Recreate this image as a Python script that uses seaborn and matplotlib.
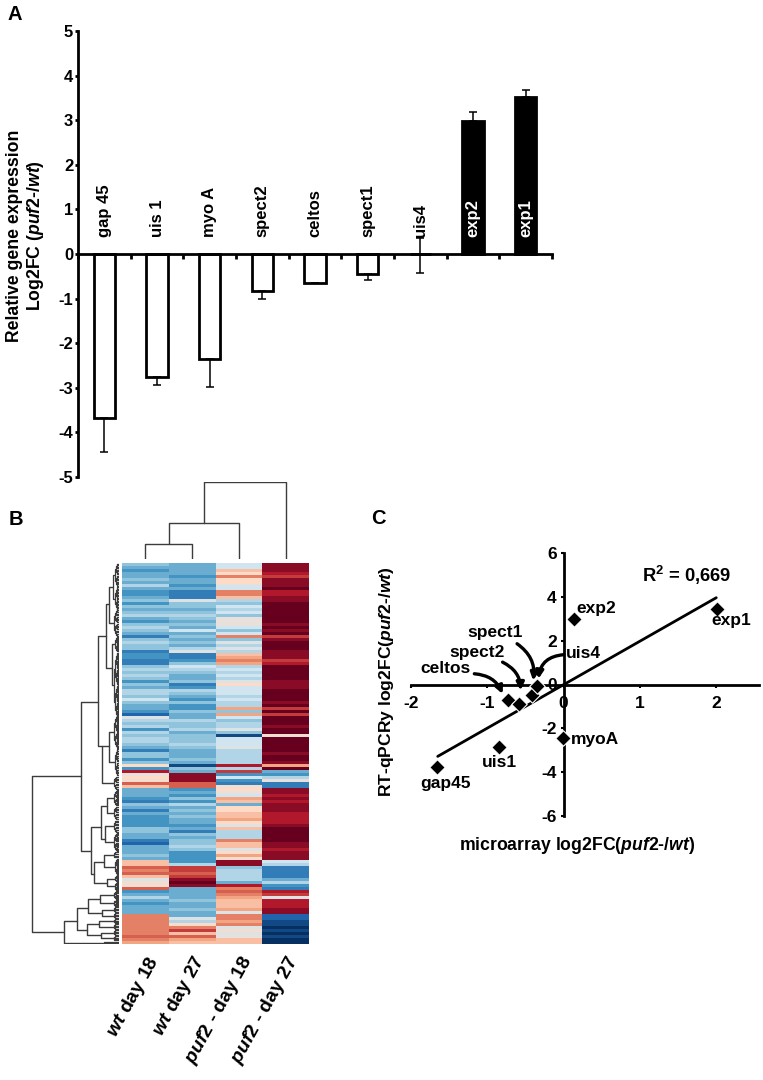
import numpy as np
import pandas as pd
import seaborn as sns
import matplotlib
matplotlib.use('Agg')
import matplotlib.pyplot as plt
from matplotlib.colors import LinearSegmentedColormap

# panel A
genes = ['gap 45', 'uis 1', 'myo A', 'spect2', 'celtos', 'spect1', 'uis4', 'exp2', 'exp1']
fold_change = [-3.68, -2.75, -2.36, -0.82, -0.64, -0.45, 0.0, 2.99, 3.53]
err_low = [0.76, 0.18, 0.63, 0.19, 0.0, 0.13, 0.42, 0.0, 0.0]
err_high = [0.0, 0.0, 0.0, 0.0, 0.0, 0.0, 0.36, 0.20, 0.14]
bar_colors = ['white'] * 7 + ['black'] * 2

# panel B, tenths of the colour scale, one list per column
wt18 = [-4,-5,-6,-5,-5,-4,-5,-3,-5,-6,-6,-5,-4,-6,-4,-5,-4,-3,-5,-6,-4,-3,-4,-5,-7,-4,-3,-4,-4,-7,-6,-6,
        -7,-7,-4,-3,-4,-3,-4,-6,-4,-5,-3,-3,-4,-2,-4,-5,-5,-6,-8,-1,-3,-4,-3,-6,-3,-4,-3,-3,-4,-5,-7,-4,
        -4,-6,-4,2,-6,8,0,2,1,6,3,-5,-5,-5,-6,-7,-4,-5,-7,-5,-6,-6,-6,-6,-4,-4,-5,-5,-7,-8,-5,-5,
        -5,-4,-5,3,3,6,5,6,3,-1,1,1,6,-6,-5,-3,-5,-6,-5,-5,-5,5,5,5,5,5,5,5,6,5,4]
wt27 = [-5,-5,-5,-5,-6,-5,-5,-6,-5,-7,-7,-7,-1,-4,-4,-5,-4,-3,-4,-5,-4,-5,-2,-5,-4,-5,-4,-5,-3,-1,-7,-7,
        -6,-4,-2,-3,-4,-5,-5,-4,-7,-6,-3,-4,-5,-6,-4,-6,-6,-4,-5,-5,-3,-4,-4,-3,-5,-4,-4,-4,-3,-4,-5,-5,
        -5,-4,-5,-9,-4,-5,9,9,9,6,6,-6,-5,-6,-4,-6,-3,-5,-4,-5,-4,-5,-5,-6,-5,-7,-4,-5,-4,-4,-3,-4,
        -6,-6,-6,-6,-3,7,7,6,7,9,10,9,-5,-5,-5,-5,-4,-5,-5,-4,-5,-5,-1,-3,2,5,7,3,6,4,3]
puf18 = [-2,-2,3,2,5,2,2,-1,-2,5,5,3,-3,-4,-2,-3,-2,-4,0,0,0,-2,-4,-2,5,-4,-1,-3,-1,-3,3,4,
         5,4,-3,-2,-3,-2,-3,-1,2,-2,-2,-2,-3,-2,-3,-3,4,-4,4,-2,-4,-3,-3,-1,-4,-9,-2,-2,-2,-1,-3,-3,
         -3,-3,-3,8,-3,7,-6,-2,-6,-7,1,2,0,-2,4,3,-5,2,2,3,3,4,2,-1,3,-3,-3,-3,5,3,3,-1,
         2,4,1,9,9,-4,-3,-3,-3,-3,-5,8,5,6,5,4,3,3,3,4,-1,5,5,4,5,-1,1,-1,0,3,3]
puf27 = [9,9,9,8,7,9,9,9,10,8,8,9,9,10,10,10,10,10,10,10,9,10,9,10,7,9,10,10,10,9,9,9,
         7,8,10,10,10,10,10,9,9,9,10,10,10,10,9,10,7,10,7,10,10,10,9,10,10,1,10,10,10,10,10,9,
         10,10,9,4,10,-5,-6,-3,0,-7,-7,9,9,8,9,8,9,9,9,8,8,8,8,9,10,10,10,10,10,9,9,8,
         9,9,9,-2,-3,-7,-7,-7,-7,-5,-3,-6,-7,8,7,-1,8,8,8,9,9,-8,-8,-9,-9,-10,-9,-10,-9,-10,-10]
column_labels = [r'$\mathit{wt}$ day 18', r'$\mathit{wt}$ day 27',
                 r'$\mathit{puf2}$ - day 18', r'$\mathit{puf2}$ - day 27']
heat_colors = ['#053061', '#2166ac', '#4393c3', '#92c5de', '#d1e5f0', '#e8e0da',
               '#fddbc7', '#f4a582', '#d6604d', '#b2182b', '#67001f']

# column tree: left x, right x, left child height, right child height, height
col_tree = [(0.5, 1.5, 0, 0, 15), (1.0, 2.5, 15, 0, 36.5), (1.75, 3.5, 36.5, 0, 77)]

# row tree: depth, upper row, upper child depth, lower row, lower child depth
row_tree = [(86.3, 71.0, 38.0, 122.9, 54.5), (38.0, 46.2, 20.3, 95.9, 28.0), (28.0, 87.9, 17.3, 103.7, 24.7),
            (20.3, 24.3, 12.3, 61.0, 16.3), (12.3, 13.7, 10.0, 35.0, 7.0), (10.0, 7.9, 5.5, 20.0, 5.0),
            (7.0, 27.0, 4.0, 40.7, 5.0), (16.3, 61.0, 9.7, 73.3, 5.0), (9.7, 56.2, 5.0, 66.4, 4.0),
            (17.3, 81.0, 12.0, 92.0, 13.7), (12.0, 78.3, 5.0, 83.3, 5.0), (13.7, 87.7, 5.0, 93.0, 5.0),
            (24.7, 99.5, 15.0, 106.5, 12.0), (15.0, 97.3, 5.0, 101.2, 4.0), (12.0, 105.2, 4.0, 107.8, 4.0),
            (54.5, 119.2, 41.3, 126.5, 15.0), (41.3, 115.0, 30.3, 122.2, 32.0), (30.3, 112.0, 19.0, 116.5, 17.0),
            (19.0, 110.7, 5.0, 113.4, 5.0), (17.0, 115.5, 5.0, 117.5, 5.0), (32.0, 120.3, 20.0, 124.1, 18.0),
            (20.0, 119.4, 5.0, 121.2, 5.0), (18.0, 123.2, 5.0, 125.1, 5.0)]
# tips of the row tree: centre row, half span, depth
row_tips = [(7.9, 7.9, 5.5), (20.0, 4.5, 5.0), (27.0, 2.5, 4.0), (40.7, 11.0, 5.0), (56.2, 5.5, 5.0), (66.4, 4.6, 4.0),
            (73.3, 2.3, 5.0), (78.3, 2.7, 5.0), (83.3, 2.3, 5.0), (87.7, 2.1, 5.0), (93.0, 3.2, 5.0), (97.3, 1.1, 5.0),
            (101.2, 2.8, 4.0), (105.2, 1.2, 4.0), (107.8, 1.4, 4.0), (110.7, 1.5, 5.0), (113.4, 1.2, 5.0), (115.5, 0.9, 5.0),
            (117.5, 1.1, 5.0), (119.4, 0.8, 5.0), (121.2, 1.0, 5.0), (123.2, 1.0, 5.0), (125.1, 0.9, 5.0), (126.5, 0.5, 15.0)]

# panel C
array_fc = [-1.66, -0.85, -0.73, -0.58, -0.42, -0.35, -0.01, 0.135, 2.01]
qpcr_fc = [-3.75, -2.85, -0.70, -0.91, -0.50, -0.05, -2.44, 2.99, 3.46]
trend_x = [-1.65, 2.0]
trend_y = [-3.28, 3.96]

sns.set_style('ticks')
plt.rcParams['font.family'] = ['Liberation Sans', 'DejaVu Sans']
plt.rcParams['font.weight'] = 'bold'
plt.rcParams['text.color'] = 'black'
plt.rcParams['axes.edgecolor'] = 'black'
plt.rcParams['xtick.color'] = 'black'
plt.rcParams['ytick.color'] = 'black'
plt.rcParams['axes.unicode_minus'] = False
plt.rcParams['mathtext.fontset'] = 'custom'
plt.rcParams['mathtext.rm'] = 'Liberation Sans:bold'
plt.rcParams['mathtext.it'] = 'Liberation Sans:italic:bold'
plt.rcParams['mathtext.bf'] = 'Liberation Sans:bold'

W, H = 763, 1080
fig = plt.figure(figsize=(W / 100, H / 100), dpi=100, facecolor='white')


def px_axes(left, top, right, bottom):
    return fig.add_axes([left / W, 1 - bottom / H, (right - left) / W, (bottom - top) / H])


def px_text(x, y, s, **kw):
    fig.text(x / W, 1 - y / H, s, ha='center', va='center', **kw)


px_text(15, 14, 'A', fontsize=14.5)
px_text(16, 520, 'B', fontsize=14.5)
px_text(378, 518, 'C', fontsize=14.5)

# ---- A: bars ----
ax_a = px_axes(78, 31, 552, 477)
sns.barplot(x=genes, y=fold_change, hue=genes, palette=bar_colors, dodge=False, legend=False,
            width=0.41, edgecolor='black', linewidth=2, ax=ax_a, zorder=2)
ax_a.errorbar(range(len(genes)), fold_change, yerr=[err_low, err_high], fmt='none',
              ecolor='black', elinewidth=1.1, capsize=3, capthick=1.1, zorder=3)
ax_a.set_xlim(-0.5, 8.5)
ax_a.set_ylim(-5, 5)
ax_a.set_xticks(np.arange(-0.5, 9))
ax_a.set_xticklabels([])
ax_a.set_yticks(range(-5, 6))
ax_a.tick_params(axis='y', labelsize=12, width=2, length=2.5, pad=1)
ax_a.tick_params(axis='x', width=2, length=3.5)
ax_a.spines['bottom'].set_position(('data', 0))
ax_a.spines['left'].set_linewidth(2)
ax_a.spines['bottom'].set_linewidth(2)
sns.despine(ax=ax_a)
for i, g in enumerate(genes):
    ax_a.text(i, 0.37, g, rotation=90, ha='center', va='bottom', fontsize=12, zorder=4,
              color='white' if bar_colors[i] == 'black' else 'black')
px_text(26, 236, 'Relative gene expression\nLog2FC (' + r'$\mathit{puf2}$' + '-/' + r'$\mathit{wt}$' + ')',
        rotation=90, fontsize=12.7, linespacing=1.1)

# ---- B: heatmap with trees ----
ax_b = px_axes(122, 563, 309, 944)
heat = pd.DataFrame({'wt18': wt18, 'wt27': wt27, 'puf18': puf18, 'puf27': puf27})
heat_cmap = LinearSegmentedColormap.from_list('heat', heat_colors)
sns.heatmap(heat, cmap=heat_cmap, vmin=-10, vmax=10, cbar=False, ax=ax_b, yticklabels=False,
            xticklabels=column_labels)
ax_b.tick_params(axis='x', length=0, pad=6)
plt.setp(ax_b.get_xticklabels(), rotation=61, ha='right', va='top', rotation_mode='anchor', fontsize=14)

tree_color = '#3c3c3c'
ax_top = px_axes(122, 482, 309, 559)
for x0, x1, h0, h1, h in col_tree:
    ax_top.plot([x0, x0, x1, x1], [h0, h, h, h1], color=tree_color, lw=1)
ax_top.set_xlim(0, 4)
ax_top.set_ylim(0, 77)
ax_top.axis('off')

ax_left = px_axes(30, 563, 118.5, 944)


def comb(centre, half, depth):
    # nested brackets inside one listed tip of the row tree
    if half < 0.3 or depth < 0.6:
        ax_left.plot([depth, 0], [centre, centre], color=tree_color, lw=0.9)
        return
    upper, lower = centre - half / 2, centre + half / 2
    child = depth * 0.7
    ax_left.plot([child, depth, depth, child], [upper, upper, lower, lower], color=tree_color, lw=0.9)
    comb(upper, half / 2, child)
    comb(lower, half / 2, child)


for d, r0, d0, r1, d1 in row_tree:
    ax_left.plot([d0, d, d, d1], [r0, r0, r1, r1], color=tree_color, lw=1)
for centre, half, depth in row_tips:
    comb(centre, half, depth)
ax_left.set_xlim(88.5, 0)
ax_left.set_ylim(127, 0)
ax_left.axis('off')

# ---- C: scatter ----
ax_c = px_axes(411, 553, 759, 816)
sns.lineplot(x=trend_x, y=trend_y, color='black', lw=2, ax=ax_c, zorder=2)
sns.scatterplot(x=array_fc, y=qpcr_fc, marker='D', s=62, color='black', edgecolor='white',
                linewidth=0.8, ax=ax_c, zorder=3, clip_on=False)
ax_c.set_xlim(-2, 2.56)
ax_c.set_ylim(-6, 6)
ax_c.set_xticks([-2, -1, 0, 1, 2])
ax_c.set_yticks([-6, -4, -2, 0, 2, 4, 6])
ax_c.spines['left'].set_position(('data', 0))
ax_c.spines['bottom'].set_position(('data', 0))
ax_c.spines['left'].set_linewidth(2)
ax_c.spines['bottom'].set_linewidth(2)
sns.despine(ax=ax_c)
ax_c.tick_params(axis='x', labelsize=12.5, width=1.5, length=2, pad=6)
ax_c.tick_params(axis='y', labelsize=12.5, width=1.5, length=2, pad=3)

label_pos = {'gap45': (-1.55, -4.5), 'uis1': (-0.84, -3.55), 'myoA': (0.41, -2.5), 'exp2': (0.43, 3.45),
             'exp1': (2.2, 2.9), 'uis4': (0.26, 1.4), 'spect1': (-0.90, 2.36), 'spect2': (-1.13, 1.45),
             'celtos': (-1.55, 0.72)}
for name, (tx, ty) in label_pos.items():
    ax_c.text(tx, ty, name, ha='center', va='center', fontsize=12.5, zorder=4)
arrows = [((-1.17, 0.49), (-0.80, -0.43), -0.3), ((-0.80, 1.02), (-0.565, -0.27), -0.3),
          ((-0.61, 1.86), (-0.40, 0.18), -0.3), ((0.0, 1.36), (-0.33, 0.26), 0.4)]
for start, end, bend in arrows:
    ax_c.annotate('', xy=end, xytext=start, zorder=4,
                  arrowprops=dict(arrowstyle='-|>', lw=2.4, color='black', shrinkA=0, shrinkB=0,
                                  mutation_scale=11, connectionstyle=f'arc3,rad={bend}'))
ax_c.text(1.61, 4.98, r'R$^{2}$ = 0,669', ha='center', va='center', fontsize=13.2)
px_text(387, 682, 'RT-qPCRy log2FC(' + r'$\mathit{puf2}$' + '-/' + r'$\mathit{wt}$' + ')', rotation=90, fontsize=12.6)
px_text(577, 846, 'microarray log2FC(' + r'$\mathit{puf2}$' + '-/' + r'$\mathit{wt}$' + ')', fontsize=12.7)

fig.savefig('out.png', dpi=100)
